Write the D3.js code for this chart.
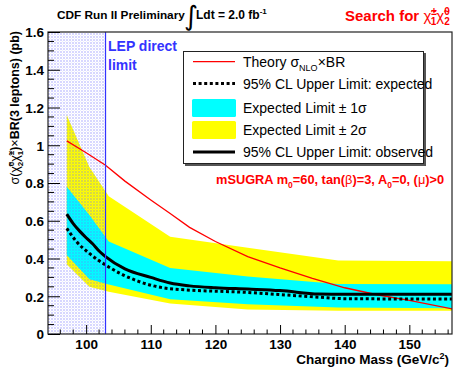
<!DOCTYPE html>
<html><head><meta charset="utf-8">
<script src="https://cdn.jsdelivr.net/npm/d3@7"></script>
<style>
body{margin:0;background:#fff;}
svg{display:block;font-family:"Liberation Sans",Arial,Helvetica,sans-serif;}
</style></head>
<body>
<svg id="c" width="454" height="377"></svg>
<script>
// ---- data ----
const bandMass   = [97, 100.5, 103.5, 113, 125, 139, 157];
const yellowHigh = [1.16, 0.885, 0.73, 0.515, 0.457, 0.39, 0.386];
const cyanHigh   = [0.78, 0.63, 0.49, 0.35, 0.305, 0.265, 0.263];
const cyanLow    = [0.418, 0.29, 0.262, 0.184, 0.158, 0.14, 0.136];
const yellowLow  = [0.37, 0.25, 0.224, 0.162, 0.13, 0.123, 0.123];

const obsMass = [97, 98, 99, 100, 101, 102, 103, 106, 110, 113, 116, 120, 125, 130, 136, 140, 150, 157];
const observed = [0.635, 0.585, 0.545, 0.51, 0.478, 0.44, 0.41, 0.345, 0.3, 0.27, 0.255, 0.245, 0.238, 0.23, 0.212, 0.21, 0.21, 0.21];
const expMass = [97, 98.5, 100.5, 103.5, 108, 113, 125, 136, 140, 157];
const expected = [0.56, 0.49, 0.427, 0.355, 0.28, 0.24, 0.22, 0.195, 0.187, 0.185];

const theoryMass = [97, 100, 103, 106, 110, 113, 116, 120, 125, 130, 135, 140, 145, 150, 157];
const theory     = [1.023, 0.96, 0.894, 0.81, 0.71, 0.638, 0.565, 0.49, 0.41, 0.35, 0.295, 0.245, 0.208, 0.178, 0.13];

const lepLimit = 103;
const xTicks = [100, 110, 120, 130, 140, 150];
const yTicks = [0, 0.2, 0.4, 0.6, 0.8, 1, 1.2, 1.4, 1.6];

// ---- layout ----
const L = 48, R = 452, T = 32, B = 334;
const svg = d3.select("#c");
const x = d3.scaleLinear().domain([94.1, 156.6]).range([L, R]);
const y = d3.scaleLinear().domain([0, 1.6]).range([B, T]);

const defs = svg.append("defs");
defs.append("clipPath").attr("id","clip").append("rect")
  .attr("x",L).attr("y",T).attr("width",R-L).attr("height",B-T);
const pat = defs.append("pattern").attr("id","hatch").attr("patternUnits","userSpaceOnUse")
  .attr("width",3).attr("height",3);
pat.append("rect").attr("x",0).attr("y",0).attr("width",2).attr("height",2).attr("fill","rgba(110,110,255,0.28)");
pat.append("rect").attr("x",2).attr("y",2).attr("width",1).attr("height",1).attr("fill","rgba(110,110,255,0.12)");

const g = svg.append("g").attr("clip-path","url(#clip)");

function band(hi, lo, color){
  const a = d3.area().x((d,i)=>x(bandMass[i])).y0((d,i)=>y(lo[i])).y1((d,i)=>y(hi[i]));
  g.append("path").datum(hi).attr("d",a).attr("fill",color);
}
band(yellowHigh, yellowLow, "#ffff00");
band(cyanHigh, cyanLow, "#00ffff");

// LEP excluded hatched region
g.append("rect").attr("x",x(94.1)).attr("y",T).attr("width",x(lepLimit)-x(94.1)).attr("height",B-T)
  .attr("fill","url(#hatch)");

const line = (xs)=>d3.line().x((d,i)=>x(xs[i])).y(d=>y(d));
g.append("path").datum(theory).attr("d",line(theoryMass)).attr("fill","none")
  .attr("stroke","#ff0000").attr("stroke-width",1.3);
g.append("path").datum(expected).attr("d",line(expMass).curve(d3.curveMonotoneX)).attr("fill","none")
  .attr("stroke","#000").attr("stroke-width",3).attr("stroke-dasharray","3,2.6");
g.append("path").datum(observed).attr("d",line(obsMass).curve(d3.curveMonotoneX)).attr("fill","none")
  .attr("stroke","#000").attr("stroke-width",3);

// LEP line
svg.append("line").attr("x1",x(lepLimit)).attr("x2",x(lepLimit)).attr("y1",T).attr("y2",B)
  .attr("stroke","#3333ff").attr("stroke-width",1.2);

// frame
svg.append("rect").attr("x",L).attr("y",T).attr("width",R-L).attr("height",B-T)
  .attr("fill","none").attr("stroke","#222").attr("stroke-width",1.2);

// axes
const xAxis = d3.axisBottom(x).tickValues(xTicks).tickSize(-9).tickPadding(0).tickFormat(d3.format("d"));
const xa = svg.append("g").attr("transform",`translate(0,${B})`).call(xAxis);
xa.select(".domain").remove();
xa.selectAll("text").attr("dy",null).attr("y",15).style("font-size","13.5px").style("font-weight","bold").attr("fill","#000");
xa.selectAll("line").attr("stroke","#000");
const xMinor = d3.range(96, 157, 2).filter(v=>v%10!==0);
svg.append("g").selectAll("line").data(xMinor).join("line")
  .attr("x1",d=>x(d)).attr("x2",d=>x(d)).attr("y1",B).attr("y2",B-4.5).attr("stroke","#000");

const yAxis = d3.axisLeft(y).tickValues(yTicks).tickSize(-12).tickPadding(0).tickFormat(d=>d3.format("")(d));
const ya = svg.append("g").attr("transform",`translate(${L},0)`).call(yAxis);
ya.select(".domain").remove();
ya.selectAll("text").attr("x",-4).attr("dy","0.36em").style("font-size","13.5px").style("font-weight","bold").attr("fill","#000");
ya.selectAll("line").attr("stroke","#000");
const yMinor = d3.range(0.05, 1.6, 0.05).filter(v=>Math.abs(v*5-Math.round(v*5))>1e-6);
svg.append("g").selectAll("line").data(yMinor).join("line")
  .attr("x1",L).attr("x2",L+6).attr("y1",d=>y(d)).attr("y2",d=>y(d)).attr("stroke","#000");

// axis titles
svg.append("text").attr("x",449).attr("y",364).attr("text-anchor","end")
  .style("font-size","13.5px").style("font-weight","bold")
  .html('Chargino Mass (GeV/c<tspan dy="-5" font-size="9px">2</tspan><tspan dy="5">)</tspan>');

const yt = svg.append("text").attr("transform","translate(19,31) rotate(-90)").attr("text-anchor","end")
  .style("font-size","12.5px").style("font-weight","bold");
yt.html('<tspan font-weight="normal">σ(χ̃</tspan><tspan dy="-5" font-size="8px">0</tspan><tspan dx="-4.5" dy="9" font-size="8px">2</tspan><tspan dy="-4" font-weight="normal">χ̃</tspan><tspan dy="-5" font-size="8px">±</tspan><tspan dx="-4.5" dy="9" font-size="8px">1</tspan><tspan dy="-4">)</tspan><tspan font-weight="normal">×</tspan>BR(3 leptons) (pb)');

// header
svg.append("text").attr("x",57).attr("y",19).style("font-size","11.8px").style("font-weight","bold")
  .text("CDF Run II Preliminary");
svg.append("text").attr("x",184).attr("y",25).style("font-size","27px").style("font-family","DejaVu Sans")
  .text("∫");
svg.append("text").attr("x",196).attr("y",19).style("font-size","12px").style("font-weight","bold")
  .html('Ldt = 2.0 fb<tspan dy="-5" font-size="8px">-1</tspan>');

const st = svg.append("text").attr("x",345).attr("y",21).attr("fill","#ff0000")
  .style("font-size","15px").style("font-weight","bold");
st.html('Search for <tspan font-weight="normal">χ̃</tspan><tspan dy="-6" font-size="10px">±</tspan><tspan dx="-6" dy="10" font-size="10px">1</tspan><tspan dy="-4" font-weight="normal">χ̃</tspan><tspan dy="-6" font-size="10px">0</tspan><tspan dx="-5.5" dy="10" font-size="10px">2</tspan>');

// LEP text
svg.append("text").attr("x",108).attr("y",51).attr("fill","#3333ff").style("font-size","14px").style("font-weight","bold").text("LEP direct");
svg.append("text").attr("x",108).attr("y",70).attr("fill","#3333ff").style("font-size","14px").style("font-weight","bold").text("limit");

// legend
const lg = svg.append("g");
lg.append("rect").attr("x",185).attr("y",53).attr("width",241).attr("height",113).attr("fill","#555");
lg.append("rect").attr("x",183.5).attr("y",51.5).attr("width",240).attr("height",112).attr("fill","#fff").attr("stroke","#222").attr("stroke-width",1);
const lx0 = 193, lx1 = 235, tx = 243;
const rows = [61.7, 83.5, 108, 130, 152];
lg.append("line").attr("x1",lx0).attr("x2",lx1).attr("y1",rows[0]).attr("y2",rows[0]).attr("stroke","#ff0000").attr("stroke-width",1.3);
lg.append("line").attr("x1",lx0).attr("x2",lx1).attr("y1",rows[1]).attr("y2",rows[1]).attr("stroke","#000").attr("stroke-width",3).attr("stroke-dasharray","3,2.6");
lg.append("rect").attr("x",lx0-1).attr("y",rows[2]-9).attr("width",lx1-lx0+2).attr("height",18).attr("rx",1.5).attr("fill","#00ffff");
lg.append("rect").attr("x",lx0-1).attr("y",rows[3]-9).attr("width",lx1-lx0+2).attr("height",18).attr("rx",1.5).attr("fill","#ffff00");
lg.append("line").attr("x1",lx0).attr("x2",lx1).attr("y1",rows[4]).attr("y2",rows[4]).attr("stroke","#000").attr("stroke-width",3);
const lt = (i, html)=>lg.append("text").attr("x",tx).attr("y",rows[i]+5).style("font-size","14px").html(html);
lt(0,'Theory σ<tspan dy="4" font-size="9px">NLO</tspan><tspan dy="-4">×BR</tspan>');
lt(1,'95% CL Upper Limit: expected');
lt(2,'Expected Limit ± 1σ');
lt(3,'Expected Limit ± 2σ');
lt(4,'95% CL Upper Limit: observed');

// mSUGRA
svg.append("text").attr("x",216).attr("y",184).attr("fill","#ff0000").style("font-size","12.8px").style("font-weight","bold")
  .html('mSUGRA m<tspan dy="4" font-size="8.5px">0</tspan><tspan dy="-4">=60, tan(</tspan><tspan font-weight="normal">β</tspan>)=3, A<tspan dy="4" font-size="8.5px">0</tspan><tspan dy="-4">=0, (</tspan><tspan font-weight="normal">μ</tspan>)&gt;0');
</script>
</body></html>
